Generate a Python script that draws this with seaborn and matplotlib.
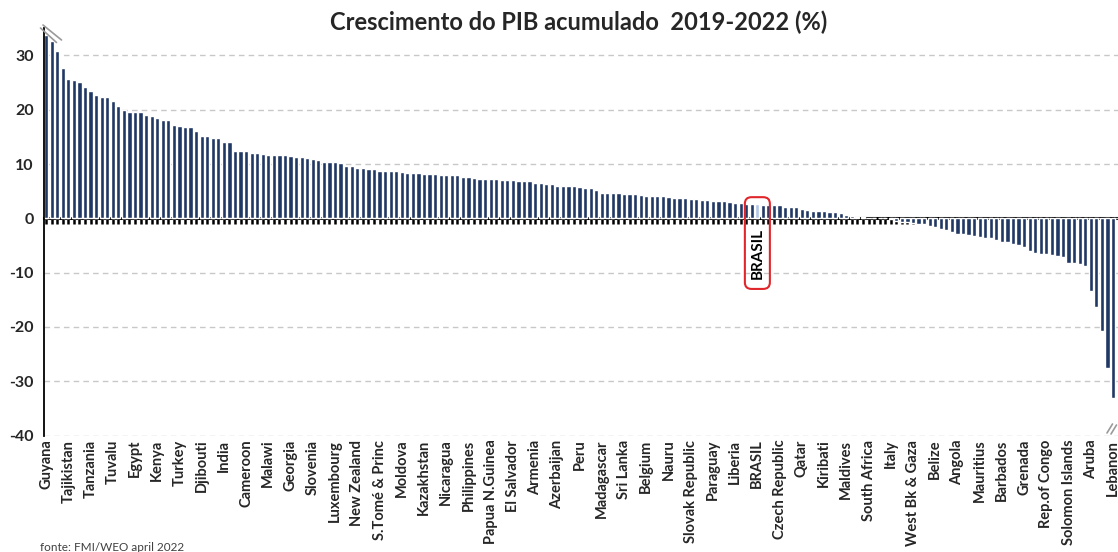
import numpy as np
import pandas as pd
import matplotlib
matplotlib.use("Agg")
import matplotlib.pyplot as plt
from matplotlib.patches import FancyBboxPatch
from matplotlib.lines import Line2D
import seaborn as sns

# =========================
# DATA (sorted high -> low)
# =========================

# every 4th bar carries a name on the axis
labeled_countries = [
    "Guyana", "Tajikistan", "Tanzania", "Tuvalu", "Egypt", "Kenya", "Turkey",
    "Djibouti", "India", "Cameroon", "Malawi", "Georgia", "Slovenia",
    "Luxembourg", "New Zealand", "S.Tomé & Princ", "Moldova", "Kazakhstan",
    "Nicaragua", "Philippines", "Papua N.Guinea", "El Salvador", "Armenia",
    "Azerbaijan", "Peru", "Madagascar", "Sri Lanka", "Belgium", "Nauru",
    "Slovak Republic", "Paraguay", "Liberia", "BRASIL", "Czech Republic",
    "Qatar", "Kiribati", "Maldives", "South Africa", "Italy", "West Bk & Gaza",
    "Belize", "Angola", "Mauritius", "Barbados", "Grenada", "Rep.of Congo",
    "Solomon Islands", "Aruba", "Lebanon",
]

growth_top = [33.7, 32.6, 30.8, 27.7, 25.6, 25.4, 25.2, 24.1, 23.4, 22.7,
              22.3, 22.3, 21.6, 20.7, 19.9, 19.6, 19.6, 19.6, 19.1, 18.8,
              18.5, 18.1, 18.1, 17.2, 17.0, 16.9, 16.9, 16.0, 15.2, 15.2,
              14.8, 14.8, 14.1, 14.1, 12.4, 12.4, 12.4, 12.1, 12.0, 11.8]

growth_upper = [11.7, 11.7, 11.7, 11.7, 11.5, 11.3, 11.3, 11.1, 10.9, 10.7,
                10.4, 10.4, 10.4, 10.2, 9.7, 9.7, 9.3, 9.3, 9.1, 9.1,
                8.8, 8.7, 8.7, 8.7, 8.5, 8.4, 8.4, 8.4, 8.2, 8.2,
                8.2, 8.0, 8.0, 7.9, 7.9, 7.7, 7.7, 7.4, 7.3, 7.3]

growth_middle = [7.3, 7.2, 7.1, 7.1, 7.1, 6.9, 6.8, 6.8, 6.5, 6.5,
                 6.3, 6.3, 5.9, 5.9, 5.9, 5.9, 5.8, 5.6, 5.6, 5.3,
                 4.7, 4.7, 4.7, 4.7, 4.5, 4.5, 4.5, 4.3, 4.2, 4.2,
                 4.1, 4.1, 4.0, 3.8, 3.7, 3.7, 3.6, 3.6, 3.4, 3.3]

growth_lower = [3.2, 3.2, 3.2, 3.1, 2.9, 2.8, 2.7, 2.7, 2.7, 2.45,
                2.45, 2.45, 2.45, 2.1, 2.1, 2.0, 1.7, 1.5, 1.35, 1.35,
                1.35, 1.2, 1.2, 1.0, 0.6, 0.4, 0.25, 0.2, 0.15, 0.1,
                0.05, 0.0, -0.1, -0.5, -0.6, -0.7, -0.9, -1.0, -1.1, -1.4]

growth_negative = [-1.6, -1.9, -2.1, -2.6, -2.8, -2.8, -3.1, -3.3, -3.4, -3.6,
                   -3.7, -4.0, -4.3, -4.3, -4.7, -4.9, -5.2, -6.0, -6.3, -6.5,
                   -6.5, -6.7, -7.0, -7.2, -8.2, -8.2, -8.5, -8.8, -13.3, -16.3,
                   -20.7, -27.5, -33.1]

y_ticks = [30, 20, 10, 0, -10, -20, -30, -40]

growth = growth_top + growth_upper + growth_middle + growth_lower + growth_negative
n_bars = len(growth)
label_step = 4

df = pd.DataFrame({
    "slot": [str(i) for i in range(n_bars)],
    "growth": growth,
})

brasil_idx = labeled_countries.index("BRASIL") * label_step

navy = "#203864"
light_blue = "#b4c7e7"
box_red = "#e0262b"

# =========================
# FIGURE
# =========================

sns.set_theme(style="white")
plt.rcParams["font.family"] = ["Lato", "DejaVu Sans"]

fig, ax = plt.subplots(figsize=(11.18, 5.52), dpi=100)
fig.subplots_adjust(left=0.039, right=1.0, bottom=0.211, top=0.9487)

sns.barplot(data=df, x="slot", y="growth", color=navy, saturation=1,
            width=0.76, ax=ax, zorder=2)

ax.patches[brasil_idx].set_facecolor(light_blue)

ax.set_ylim(-40, 35)
ax.set_xlim(-0.45, n_bars - 0.1)

# y axis
ax.set_yticks(y_ticks)
ax.set_yticklabels([str(t) for t in y_ticks], fontweight="bold", fontsize=11.5)
ax.tick_params(axis="y", direction="out", length=4, width=1.3, color="black", pad=3)
ax.yaxis.grid(True, linestyle=(0, (4, 3)), color="#c8c8c8", linewidth=1, zorder=0)
ax.xaxis.grid(False)

for side in ["top", "right", "bottom"]:
    ax.spines[side].set_visible(False)
ax.spines["left"].set_color("black")
ax.spines["left"].set_linewidth(1.3)

# x labels at the bottom
ax.set_xticks(np.arange(0, n_bars, label_step))
ax.set_xticklabels(labeled_countries, rotation=90, fontweight="bold", fontsize=10.5)
ax.tick_params(axis="x", length=0, pad=3)
ax.set_xlabel("")
ax.set_ylabel("")

# zero line with small ticks under every bar
zero_axis = ax.secondary_xaxis(0, transform=ax.transData)
zero_axis.set_xticks(np.arange(n_bars))
zero_axis.set_xticklabels([])
zero_axis.tick_params(axis="x", direction="out", length=4, width=1.8, color="black")
zero_axis.spines["bottom"].set_linewidth(2.2)
zero_axis.spines["bottom"].set_color("black")

# BRASIL callout
ax.text(brasil_idx, -1.7, "BRASIL", rotation=90, ha="center", va="top",
        fontweight="bold", fontsize=11, color="black", zorder=5)
box = FancyBboxPatch((brasil_idx - 2.25, -13.0), 4.5, 16.9,
                     boxstyle="round,pad=0,rounding_size=1.2",
                     fill=False, edgecolor=box_red, linewidth=1.5,
                     clip_on=False, zorder=6)
ax.add_patch(box)

# title and source
fig.text(0.518, 0.96, "Crescimento do PIB acumulado  2019-2022 (%)",
         ha="center", va="center", fontsize=17, fontweight="bold")
fig.text(0.036, 0.009, "fonte: FMI/WEO april 2022", ha="left", va="center",
         fontsize=8.5, color="#404040")

# axis break marks


def px_line(x0, y0, x1, y1):
    fig.add_artist(Line2D([x0 / 1118, x1 / 1118], [1 - y0 / 552, 1 - y1 / 552],
                          transform=fig.transFigure, color="#9a9a9a", linewidth=1.2))


px_line(40.5, 28, 56.5, 42.5)
px_line(43, 25, 61.5, 40)
px_line(1107, 433, 1112.5, 424)
px_line(1111, 434, 1116.5, 425)

plt.savefig("out.png", dpi=100)
plt.close()
